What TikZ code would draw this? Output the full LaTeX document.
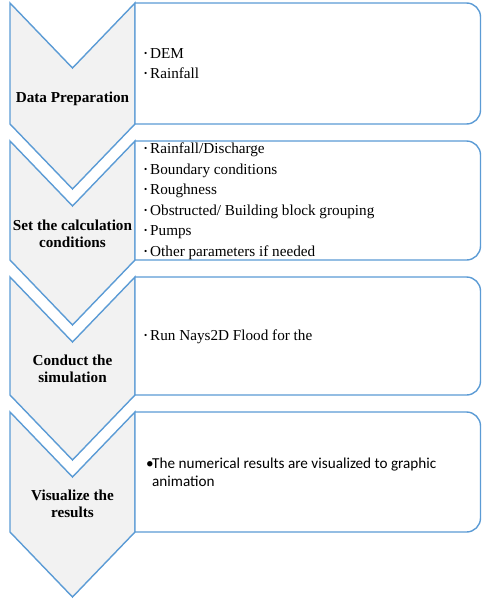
\documentclass[tikz,border=0pt]{standalone}
\usepackage{fontspec}
\setmainfont{Liberation Serif}
\newfontfamily\calibrifont{Carlito}
\definecolor{stepblue}{RGB}{91,155,213}
\definecolor{chevgray}{RGB}{242,242,242}
\newcommand{\itemdot}{\makebox[6pt][l]{\raisebox{0.28ex}{\scalebox{0.6}{\textbullet}}}}

\begin{document}
\begin{tikzpicture}[x=1pt, y=-1pt,
        chevron/.style={draw=stepblue, fill=chevgray, line width=1.4pt, line join=miter},
        panel/.style={draw=stepblue, fill=white, line width=1.4pt},
        steplabel/.style={align=center, anchor=base, inner sep=0pt,
                          font=\fontsize{15.2}{17}\selectfont\bfseries},
        itemlist/.style={align=left, anchor=base west, inner sep=0pt,
                         font=\fontsize{15.2}{20.5}\selectfont}
    ]
        \useasboundingbox (0,0) rectangle (482,600);
        % one chevron and one panel per step
        \foreach \t/\b in {3/124, 141/260, 277/395, 412/532} {
            \draw [chevron] (10,\t) -- (72.5,\t+65) -- (135,\t) -- (135,\b) -- (72.5,\b+65) -- (10,\b) -- cycle;
            \draw [panel] (135,\b) -- (135,\t) -- (300,\t) [rounded corners=14pt] -- (480.5,\t)
                -- (480.5,\b) -- (300,\b) [sharp corners] -- cycle;
        }
        % texts sit on the baseline of their last line
        \node [steplabel] (prep)     at (72.5,102) {Data Preparation};
        \node [steplabel] (setcond)  at (72.5,247) {Set the calculation\\conditions};
        \node [steplabel] (conduct)  at (72.5,382) {Conduct the\\simulation};
        \node [steplabel] (visual)   at (72.5,517) {Visualize the\\results};
        \node [itemlist, font=\fontsize{15.2}{20}\selectfont] (prepitems) at (144,78)
            {\itemdot DEM\\\itemdot Rainfall};
        \node [itemlist] (conditems) at (144,256) {\itemdot Rainfall/Discharge\\\itemdot Boundary conditions\\
            \itemdot Roughness\\\itemdot Obstructed/ Building block grouping\\\itemdot Pumps\\
            \itemdot Other parameters if needed};
        \node [itemlist] (simitems)  at (144,340) {\itemdot Run Nays2D Flood for the};
        \node [itemlist, font=\calibrifont\fontsize{15.2}{18}\selectfont] (visitems) at (146,486)
            {\makebox[6pt][l]{\textbullet}The numerical results are visualized to graphic\\\hspace*{6pt}animation};
    \end{tikzpicture}
\end{document}
